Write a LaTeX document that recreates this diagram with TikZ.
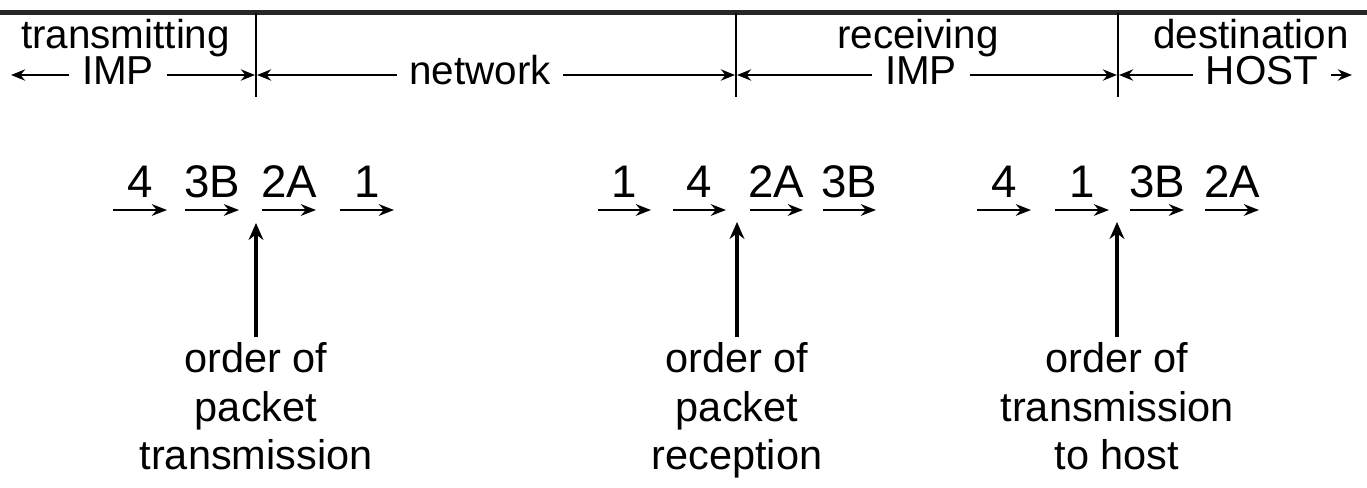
\documentclass[tikz,border=0pt]{standalone}
\usepackage{fontspec}
\setmainfont{Liberation Sans}
\usetikzlibrary{arrows.meta,positioning}

\begin{document}
\begin{tikzpicture}[
  word/.style={font=\fontsize{11.5}{13.7}\selectfont, inner sep=0pt},
  endword/.style={word, anchor=mid, inner xsep=0.12cm},
  pkt/.style={font=\fontsize{13}{15}\selectfont, anchor=base, inner sep=0pt},
  note/.style={font=\fontsize{11.8}{13.8}\selectfont, align=center, anchor=north, inner sep=0.05cm},
  span/.style={-{Stealth[length=4pt,width=3.2pt]}, line width=0.65pt, shorten >=0.3pt},
  seq/.style={-{Stealth[length=4.3pt,width=3.3pt]}, line width=0.8pt},
  pointer/.style={-{Stealth[length=4.8pt,width=4.2pt]}, line width=1.1pt},
  divider/.style={line width=0.6pt}
]
\useasboundingbox (0,0) rectangle (13.67,4.87);

% heavy rule along the top
\coordinate (barL) at (0,4.745);
\coordinate (barR) at (13.67,4.745);
\draw[line width=1.4pt, black!85] (barL) -- (barR);

% section dividers
\foreach \i/\x in {1/2.56, 2/7.36, 3/11.18}
{
  \coordinate (dt\i) at (\x,4.745);
  \coordinate (db\i) at (\x,3.90);
  \coordinate (d\i) at (\x,4.12);
  \draw[divider] (dt\i) -- (db\i);
}
\coordinate (leftEnd) at (0.10,4.12);
\coordinate (rightEnd) at (13.53,4.12);

% section titles
\node[word, anchor=base] (tLbl) at (1.255,4.39) {transmitting};
\node[word, anchor=base] (rLbl) at (9.18,4.39) {receiving};
\node[word, anchor=base] (hLbl) at (12.51,4.39) {destination};

\node[endword] (tImp) at (1.18,4.12) {IMP};
\node[endword] (net) at (4.80,4.12) {network};
\node[endword] (rImp) at (9.21,4.12) {IMP};
\node[endword] (hHost) at (12.62,4.12) {HOST};

\draw[span] (tImp.mid west) -- (leftEnd);
\draw[span] (tImp.mid east) -- (d1);
\draw[span] (net.mid west) -- (d1);
\draw[span] (net.mid east) -- (d2);
\draw[span] (rImp.mid west) -- (d2);
\draw[span] (rImp.mid east) -- (d3);
\draw[span] (hHost.mid west) -- (d3);
\draw[span] (hHost.mid east) -- (rightEnd);

% packets as sent
\foreach \x/\t [count=\i] in {1.13/4, 1.85/3B, 2.62/2A, 3.40/1}
{
  \coordinate (sa\i) at (\x,2.77);
  \coordinate (sb\i) at (\x+0.54,2.77);
  \node[pkt] (sl\i) at (\x+0.27,2.90) {\t};
  \draw[seq] (sa\i) -- (sb\i);
}

% packets as received
\foreach \x/\t [count=\i] in {5.98/1, 6.73/4, 7.50/2A, 8.23/3B}
{
  \coordinate (ra\i) at (\x,2.77);
  \coordinate (rb\i) at (\x+0.53,2.77);
  \node[pkt] (rl\i) at (\x+0.265,2.90) {\t};
  \draw[seq] (ra\i) -- (rb\i);
}

% packets handed to the host
\foreach \x/\t [count=\i] in {9.77/4, 10.55/1, 11.30/3B, 12.05/2A}
{
  \coordinate (ha\i) at (\x,2.77);
  \coordinate (hb\i) at (\x+0.54,2.77);
  \node[pkt] (hl\i) at (\x+0.27,2.90) {\t};
  \draw[seq] (ha\i) -- (hb\i);
}

% notes under each row
\coordinate (tip1) at (2.56,2.64);
\coordinate (tip2) at (7.37,2.65);
\coordinate (tip3) at (11.17,2.65);

\node[note] (ord1) at (2.56,1.50) {order of\\packet\\transmission};
\node[note] (ord2) at (7.37,1.50) {order of\\packet\\reception};
\node[note] (ord3) at (11.17,1.50) {order of\\transmission\\to host};

\draw[pointer] (ord1) -- (tip1);
\draw[pointer] (ord2) -- (tip2);
\draw[pointer] (ord3) -- (tip3);

\end{tikzpicture}
\end{document}
